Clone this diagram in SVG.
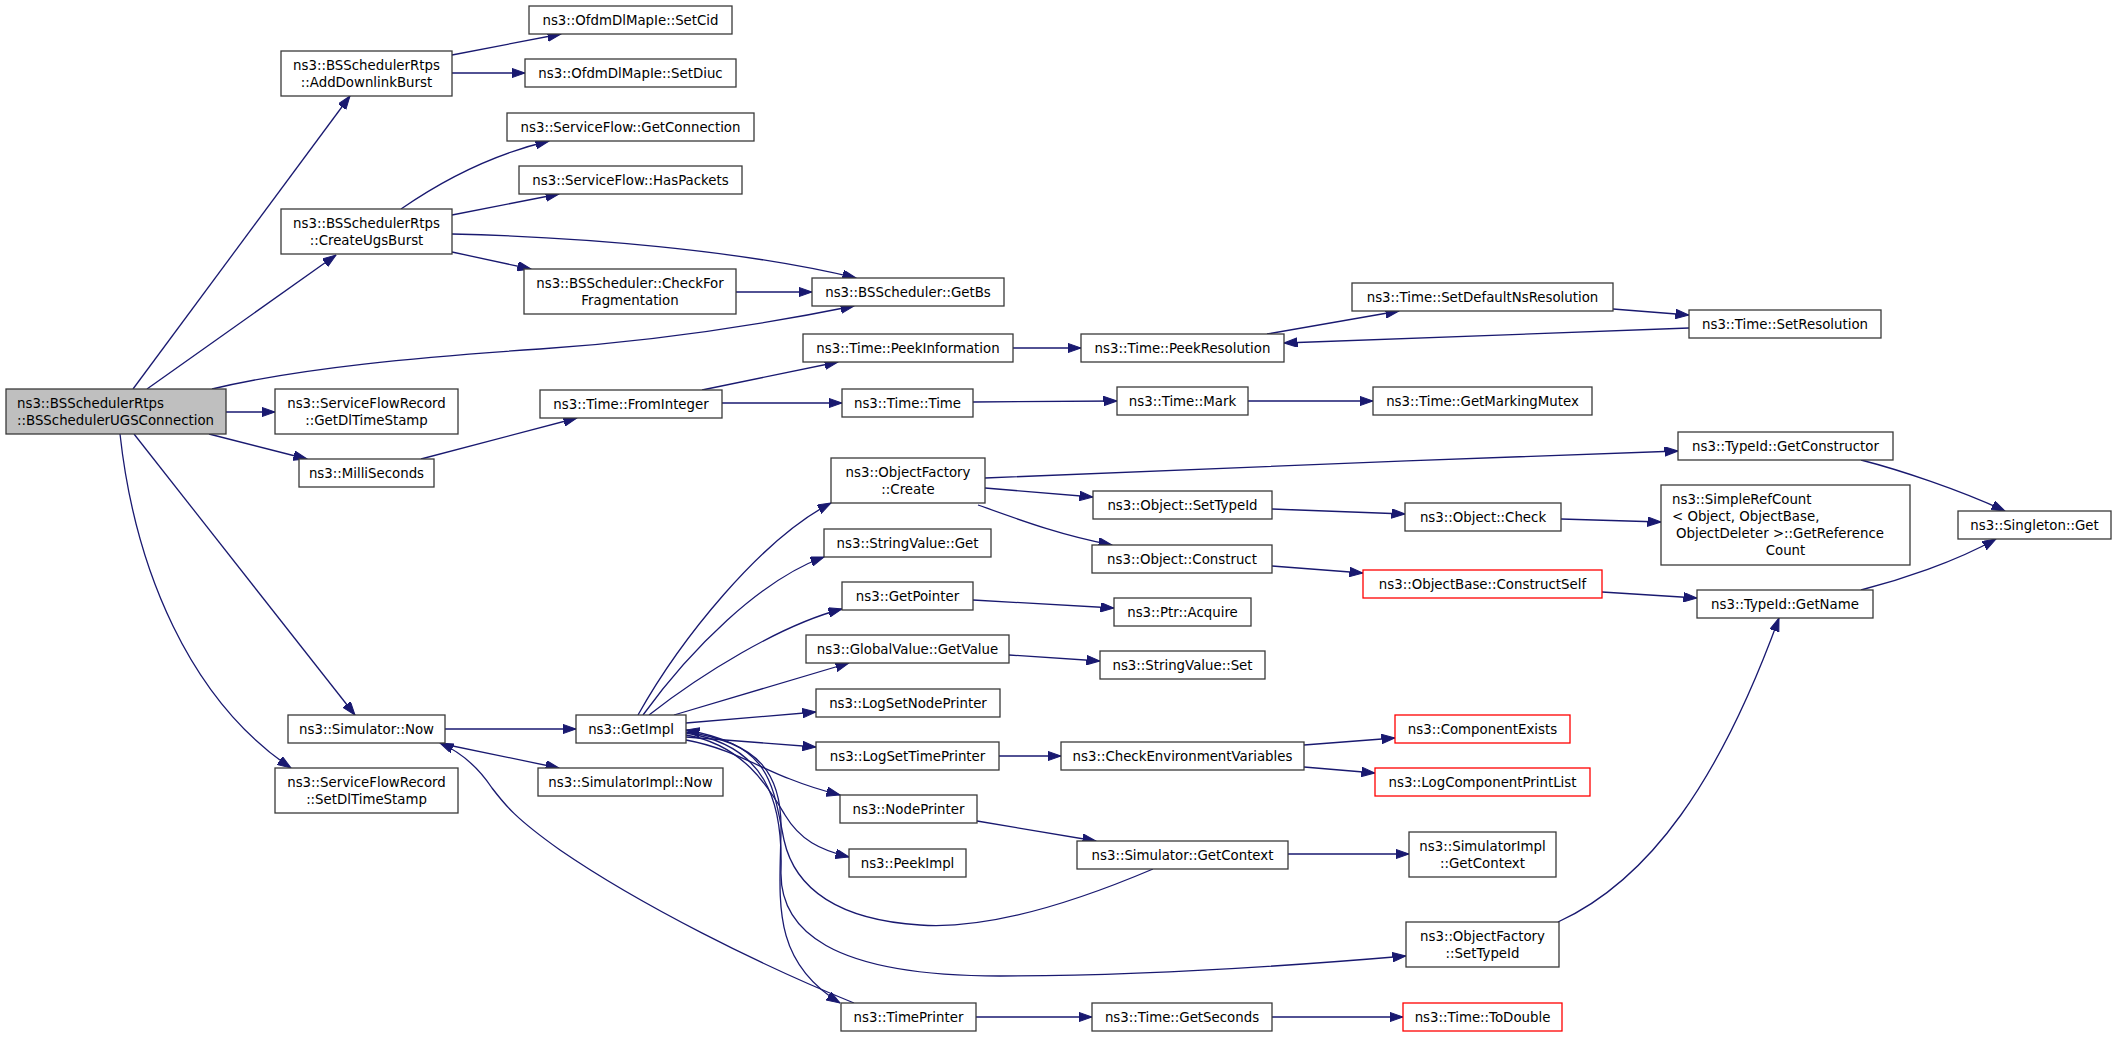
<svg xmlns="http://www.w3.org/2000/svg" width="2117" height="1037" viewBox="0 0 2117 1037">
<style>
.n rect{fill:#ffffff;stroke:#3a3a3a;stroke-width:1.3}
.n.main rect{fill:#bfbfbf}
.n.red rect{stroke:#ff0000}
.n text{font-family:"DejaVu Sans",sans-serif;font-size:13.33px;fill:#000000;text-anchor:middle}
.n text.l{text-anchor:start}
#edges path{fill:none;stroke:#191970;stroke-width:1.3;marker-end:url(#arr)}
</style>
<defs>
<marker id="arr" markerWidth="14" markerHeight="10" refX="13.5" refY="4.75" orient="auto" markerUnits="userSpaceOnUse">
<path d="M0,0 L13.5,4.75 L0,9.5 z" fill="#191970" stroke="#191970" stroke-width="1"/>
</marker>
</defs>
<rect width="2117" height="1037" fill="#ffffff"/>
<g id="edges">
<path d="M133,389 L350,96"/>
<path d="M147,389 L336,255"/>
<path d="M212,389 C300,368 420,357 540,349 C660,341 760,325 854,306"/>
<path d="M226,412 L275,412"/>
<path d="M209,434 L307,459"/>
<path d="M134,434 L355,715"/>
<path d="M120,434 C135,570 190,700 291,768"/>
<path d="M452,55 L561,34"/>
<path d="M452,73 L525,73"/>
<path d="M401,209 C440,182 490,155 549,141"/>
<path d="M452,215 L559,194"/>
<path d="M452,234 C580,237 740,250 856,278"/>
<path d="M452,252 L531,269"/>
<path d="M736,292 L812,292"/>
<path d="M421,459 L577,418"/>
<path d="M702,390 L838,362"/>
<path d="M722,403 L842,403"/>
<path d="M1013,348 L1081,348"/>
<path d="M1267,334 L1399,311"/>
<path d="M1613,309 L1689,315"/>
<path d="M1689,328 L1284,343"/>
<path d="M973,402 L1117,401"/>
<path d="M1248,401 L1373,401"/>
<path d="M985,478 C1200,470 1450,458 1678,451"/>
<path d="M985,488 L1093,497"/>
<path d="M978,505 C1020,520 1060,535 1112,545"/>
<path d="M1272,509 L1405,514"/>
<path d="M1561,519 L1661,522"/>
<path d="M1272,566 L1363,573"/>
<path d="M1602,592 L1697,598"/>
<path d="M1861,460 C1900,470 1960,490 2005,511"/>
<path d="M1861,590 C1900,580 1955,562 1996,539"/>
<path d="M1558,922 C1650,880 1720,780 1779,618"/>
<path d="M973,600 L1114,608"/>
<path d="M1009,655 L1100,661"/>
<path d="M445,729 L576,729"/>
<path d="M443,744 L559,768"/>
<path d="M854,1003 C760,965 640,905 560,850 C515,818 505,805 492,788 C480,770 465,754 440,743"/>
<path d="M638,715 C680,640 760,540 831,503"/>
<path d="M643,715 C690,650 760,580 824,557"/>
<path d="M649,715 C700,675 780,625 842,609"/>
<path d="M674,715 L849,663"/>
<path d="M686,723 L816,712"/>
<path d="M686,737 L816,747"/>
<path d="M686,740 C730,748 760,768 790,779 C805,785 820,790 840,795"/>
<path d="M686,735 C745,745 770,790 785,815 C800,840 820,850 849,857"/>
<path d="M686,732 C760,742 782,775 781,830 C780,900 770,960 840,1003"/>
<path d="M686,733 C765,745 783,800 781,870 C779,930 830,976 1000,976 C1150,976 1300,965 1406,956"/>
<path d="M1153,869 C1080,900 990,930 920,925 C840,920 795,890 784,840 C772,780 770,745 686,730"/>
<path d="M999,756 L1061,756"/>
<path d="M1304,745 L1395,738"/>
<path d="M1304,767 L1375,773"/>
<path d="M977,821 L1096,841"/>
<path d="M1288,854 L1409,854"/>
<path d="M976,1017 L1092,1017"/>
<path d="M1272,1017 L1403,1017"/>
</g>
<g id="n_main" class="n main"><rect x="6" y="389" width="220" height="45"/><text class="l" x="17" y="407.5">ns3::BSSchedulerRtps</text><text class="l" x="17" y="424.5">::BSSchedulerUGSConnection</text></g>
<g id="n_add" class="n"><rect x="281" y="51" width="171" height="45"/><text x="366.5" y="69.5">ns3::BSSchedulerRtps</text><text x="366.5" y="86.5">::AddDownlinkBurst</text></g>
<g id="n_create" class="n"><rect x="281" y="209" width="171" height="45"/><text x="366.5" y="227.5">ns3::BSSchedulerRtps</text><text x="366.5" y="244.5">::CreateUgsBurst</text></g>
<g id="n_getdl" class="n"><rect x="275" y="389" width="183" height="45"/><text x="366.5" y="407.5">ns3::ServiceFlowRecord</text><text x="366.5" y="424.5">::GetDlTimeStamp</text></g>
<g id="n_milli" class="n"><rect x="299" y="459" width="135" height="28"/><text x="366.5" y="477.5">ns3::MilliSeconds</text></g>
<g id="n_simnow" class="n"><rect x="288" y="715" width="157" height="28"/><text x="366.5" y="733.5">ns3::Simulator::Now</text></g>
<g id="n_setdl" class="n"><rect x="275" y="768" width="183" height="45"/><text x="366.5" y="786.5">ns3::ServiceFlowRecord</text><text x="366.5" y="803.5">::SetDlTimeStamp</text></g>
<g id="n_setcid" class="n"><rect x="529" y="6" width="203" height="28"/><text x="630.5" y="24.5">ns3::OfdmDlMapIe::SetCid</text></g>
<g id="n_setdiuc" class="n"><rect x="525" y="59" width="211" height="28"/><text x="630.5" y="77.5">ns3::OfdmDlMapIe::SetDiuc</text></g>
<g id="n_getconn" class="n"><rect x="507" y="113" width="247" height="28"/><text x="630.5" y="131.5">ns3::ServiceFlow::GetConnection</text></g>
<g id="n_haspk" class="n"><rect x="519" y="166" width="223" height="28"/><text x="630.5" y="184.5">ns3::ServiceFlow::HasPackets</text></g>
<g id="n_checkfor" class="n"><rect x="524" y="269" width="212" height="45"/><text x="630" y="287.5">ns3::BSScheduler::CheckFor</text><text x="630" y="304.5">Fragmentation</text></g>
<g id="n_getbs" class="n"><rect x="812" y="278" width="192" height="28"/><text x="908" y="296.5">ns3::BSScheduler::GetBs</text></g>
<g id="n_peekinfo" class="n"><rect x="803" y="334" width="210" height="28"/><text x="908" y="352.5">ns3::Time::PeekInformation</text></g>
<g id="n_fromint" class="n"><rect x="540" y="390" width="182" height="28"/><text x="631" y="408.5">ns3::Time::FromInteger</text></g>
<g id="n_timetime" class="n"><rect x="842" y="389" width="131" height="28"/><text x="907.5" y="407.5">ns3::Time::Time</text></g>
<g id="n_ofcreate" class="n"><rect x="831" y="458" width="154" height="45"/><text x="908" y="476.5">ns3::ObjectFactory</text><text x="908" y="493.5">::Create</text></g>
<g id="n_svget" class="n"><rect x="824" y="529" width="167" height="28"/><text x="907.5" y="547.5">ns3::StringValue::Get</text></g>
<g id="n_getptr" class="n"><rect x="842" y="582" width="131" height="28"/><text x="907.5" y="600.5">ns3::GetPointer</text></g>
<g id="n_gvget" class="n"><rect x="806" y="635" width="203" height="28"/><text x="907.5" y="653.5">ns3::GlobalValue::GetValue</text></g>
<g id="n_logsnp" class="n"><rect x="816" y="689" width="184" height="28"/><text x="908" y="707.5">ns3::LogSetNodePrinter</text></g>
<g id="n_getimpl" class="n"><rect x="576" y="715" width="110" height="28"/><text x="631" y="733.5">ns3::GetImpl</text></g>
<g id="n_simimplnow" class="n"><rect x="538" y="768" width="185" height="28"/><text x="630.5" y="786.5">ns3::SimulatorImpl::Now</text></g>
<g id="n_logstp" class="n"><rect x="816" y="742" width="183" height="28"/><text x="907.5" y="760.5">ns3::LogSetTimePrinter</text></g>
<g id="n_nodeprinter" class="n"><rect x="840" y="795" width="137" height="28"/><text x="908.5" y="813.5">ns3::NodePrinter</text></g>
<g id="n_peekimpl" class="n"><rect x="849" y="849" width="117" height="28"/><text x="907.5" y="867.5">ns3::PeekImpl</text></g>
<g id="n_timeprinter" class="n"><rect x="841" y="1003" width="135" height="28"/><text x="908.5" y="1021.5">ns3::TimePrinter</text></g>
<g id="n_peekres" class="n"><rect x="1081" y="334" width="203" height="28"/><text x="1182.5" y="352.5">ns3::Time::PeekResolution</text></g>
<g id="n_setdefns" class="n"><rect x="1352" y="283" width="261" height="28"/><text x="1482.5" y="301.5">ns3::Time::SetDefaultNsResolution</text></g>
<g id="n_setres" class="n"><rect x="1689" y="310" width="192" height="28"/><text x="1785" y="328.5">ns3::Time::SetResolution</text></g>
<g id="n_mark" class="n"><rect x="1117" y="387" width="131" height="28"/><text x="1182.5" y="405.5">ns3::Time::Mark</text></g>
<g id="n_getmm" class="n"><rect x="1373" y="387" width="219" height="28"/><text x="1482.5" y="405.5">ns3::Time::GetMarkingMutex</text></g>
<g id="n_getctor" class="n"><rect x="1678" y="432" width="215" height="28"/><text x="1785.5" y="450.5">ns3::TypeId::GetConstructor</text></g>
<g id="n_objsettid" class="n"><rect x="1093" y="491" width="179" height="28"/><text x="1182.5" y="509.5">ns3::Object::SetTypeId</text></g>
<g id="n_objcheck" class="n"><rect x="1405" y="503" width="156" height="28"/><text x="1483" y="521.5">ns3::Object::Check</text></g>
<g id="n_simpleref" class="n"><rect x="1661" y="485" width="249" height="80"/><text class="l" x="1672" y="503.5">ns3::SimpleRefCount</text><text class="l" x="1672" y="520.5">&lt; Object, ObjectBase,</text><text class="l" x="1676" y="537.5">ObjectDeleter &gt;::GetReference</text><text x="1785.5" y="554.5">Count</text></g>
<g id="n_objconstruct" class="n"><rect x="1092" y="545" width="180" height="28"/><text x="1182" y="563.5">ns3::Object::Construct</text></g>
<g id="n_constructself" class="n red"><rect x="1363" y="570" width="239" height="28"/><text x="1482.5" y="588.5">ns3::ObjectBase::ConstructSelf</text></g>
<g id="n_ptracq" class="n"><rect x="1114" y="598" width="137" height="28"/><text x="1182.5" y="616.5">ns3::Ptr::Acquire</text></g>
<g id="n_svset" class="n"><rect x="1100" y="651" width="165" height="28"/><text x="1182.5" y="669.5">ns3::StringValue::Set</text></g>
<g id="n_checkenv" class="n"><rect x="1061" y="742" width="243" height="28"/><text x="1182.5" y="760.5">ns3::CheckEnvironmentVariables</text></g>
<g id="n_compexists" class="n red"><rect x="1395" y="715" width="175" height="28"/><text x="1482.5" y="733.5">ns3::ComponentExists</text></g>
<g id="n_logcpl" class="n red"><rect x="1375" y="768" width="215" height="28"/><text x="1482.5" y="786.5">ns3::LogComponentPrintList</text></g>
<g id="n_simgetctx" class="n"><rect x="1077" y="841" width="211" height="28"/><text x="1182.5" y="859.5">ns3::Simulator::GetContext</text></g>
<g id="n_simimplgetctx" class="n"><rect x="1409" y="832" width="147" height="45"/><text x="1482.5" y="850.5">ns3::SimulatorImpl</text><text x="1482.5" y="867.5">::GetContext</text></g>
<g id="n_ofsettid" class="n"><rect x="1406" y="922" width="153" height="45"/><text x="1482.5" y="940.5">ns3::ObjectFactory</text><text x="1482.5" y="957.5">::SetTypeId</text></g>
<g id="n_getsec" class="n"><rect x="1092" y="1003" width="180" height="28"/><text x="1182" y="1021.5">ns3::Time::GetSeconds</text></g>
<g id="n_todouble" class="n red"><rect x="1403" y="1003" width="159" height="28"/><text x="1482.5" y="1021.5">ns3::Time::ToDouble</text></g>
<g id="n_singleton" class="n"><rect x="1958" y="511" width="153" height="28"/><text x="2034.5" y="529.5">ns3::Singleton::Get</text></g>
<g id="n_getname" class="n"><rect x="1697" y="590" width="176" height="28"/><text x="1785" y="608.5">ns3::TypeId::GetName</text></g>
</svg>
